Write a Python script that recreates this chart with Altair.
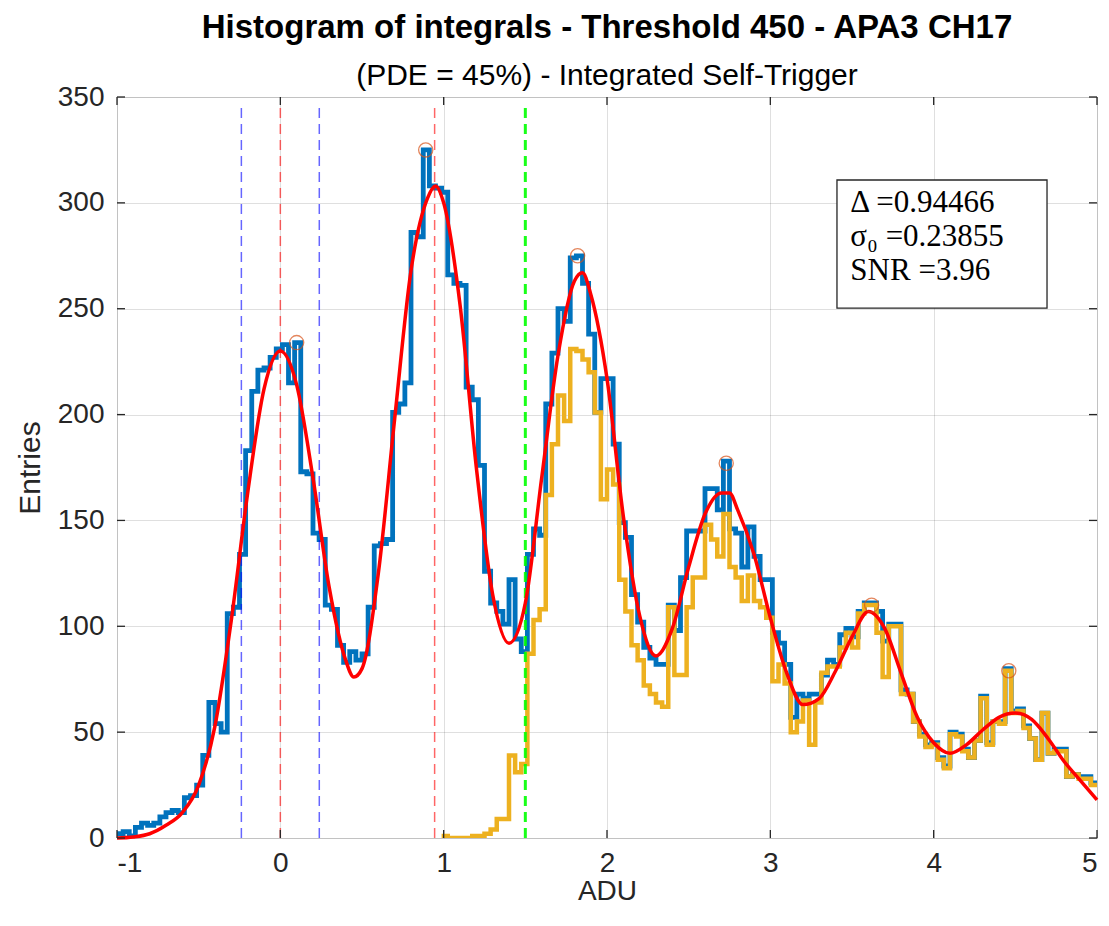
import altair as alt
import pandas as pd

# ---------------- data ----------------
BIN_START = -1.0
BIN_WIDTH = 0.0375

# blue histogram (all events), 160 bins from -1 to 5 ADU
blue_counts = [
    2, 3, 1, 5, 7, 6, 7, 10, 12, 13,
    12, 19, 20, 25, 39, 64, 54, 50, 106, 109,
    134, 183, 211, 221, 222, 227, 231, 233, 215, 234,
    173, 172, 144, 141, 110, 108, 91, 83, 88, 84,
    87, 109, 138, 139, 141, 201, 205, 215, 286, 284,
    325, 308, 307, 305, 266, 262, 261, 213, 207, 176,
    126, 111, 107, 101, 122, 94, 88, 134, 146, 143,
    205, 229, 250, 244, 274, 275, 262, 238, 201, 217,
    217, 186, 149, 142, 115, 102, 90, 85, 82, 82,
    110, 98, 123, 145, 145, 145, 165, 165, 155, 178,
    146, 144, 128, 147, 133, 122, 122, 97, 92, 82,
    57, 68, 66, 68, 68, 77, 84, 82, 96, 99,
    95, 107, 111, 111, 107, 93, 101, 101, 70, 68,
    55, 49, 44, 45, 38, 34, 50, 49, 42, 38,
    46, 67, 45, 55, 55, 80, 60, 61, 53, 47,
    37, 59, 40, 42, 42, 29, 30, 29, 29, 26,
]

# yellow histogram (self-trigger), starts at bin 53
YELLOW_FIRST_BIN = 53
yellow_counts = [
    1, 0, 0, 0, 0, 1, 1, 2, 4, 9,
    9, 39, 31, 35, 87, 103, 108, 162, 186, 209,
    197, 231, 230, 226, 220, 201, 160, 174, 167, 122,
    107, 91, 84, 72, 68, 64, 62, 109, 77, 77,
    109, 123, 123, 148, 141, 133, 153, 128, 123, 112,
    124, 112, 109, 104, 74, 82, 73, 50, 55, 65,
    44, 64, 78, 81, 81, 90, 97, 90, 106, 110,
    110, 97, 76, 100, 100, 68, 68, 55, 48, 43,
    44, 37, 33, 49, 48, 41, 38, 46, 66, 44,
    55, 54, 79, 59, 60, 52, 47, 37, 59, 40,
    41, 41, 29, 30, 28, 28, 25,
]

# red multi-gaussian fit
fit_adu = [-1.0, -0.9, -0.8, -0.7, -0.6, -0.5, -0.4, -0.3, -0.2, -0.1,
           0.0, 0.1, 0.2, 0.3, 0.4, 0.45, 0.5, 0.6, 0.7, 0.8,
           0.9, 0.95, 1.0, 1.1, 1.2, 1.3, 1.4, 1.5, 1.6, 1.7,
           1.8, 1.85, 1.9, 2.0, 2.1, 2.2, 2.3, 2.4, 2.5, 2.6,
           2.7, 2.75, 2.8, 2.9, 3.0, 3.1, 3.2, 3.3, 3.4, 3.5,
           3.6, 3.7, 3.8, 3.9, 4.0, 4.1, 4.2, 4.3, 4.4, 4.5,
           4.6, 4.7, 4.8, 4.9, 5.0]
fit_entries = [0, 0.5, 2, 6, 12, 25, 53, 103, 163, 212,
               230, 214, 170, 118, 84, 76, 80, 125, 198, 268,
               302, 308, 300, 252, 175, 115, 92, 111, 170, 228,
               263, 267, 257, 217, 152, 105, 86, 99, 128, 153,
               163, 163, 155, 134, 104, 78, 63, 66, 79, 95,
               107, 99, 78, 57, 45, 40, 44, 51, 57, 59,
               56, 47, 36, 27, 18]

peak_adu = [0.10, 0.89, 1.82, 2.73, 3.62, 4.46]
peak_entries = [234, 325, 275, 177, 110, 79]

blue_dash_adu = [-0.23855, 0.23855]
red_dash_adu = [0.0, 0.94466]
green_dash_adu = [1.5]

x_ticks = [-1, 0, 1, 2, 3, 4, 5]
y_ticks = [0, 50, 100, 150, 200, 250, 300, 350]

stats_lines = ["Δ =0.94466", "σ₀ =0.23855", "SNR =3.96"]

# ---------------- build tables ----------------
def stairs(counts, first_bin):
    xs, ys = [], []
    for k, c in enumerate(counts):
        xs.append(BIN_START + (first_bin + k) * BIN_WIDTH)
        ys.append(c)
    xs.append(BIN_START + (first_bin + len(counts)) * BIN_WIDTH)
    ys.append(counts[-1])
    return pd.DataFrame({"adu": xs, "entries": ys})

blue_df = stairs(blue_counts, 0)
yellow_df = stairs(yellow_counts, YELLOW_FIRST_BIN)
fit_df = pd.DataFrame({"adu": fit_adu, "entries": fit_entries})
peak_df = pd.DataFrame({"adu": peak_adu, "entries": peak_entries})

def vlines(xs):
    return pd.DataFrame({"adu": xs, "y0": [0] * len(xs), "y1": [347] * len(xs)})

W, H = 980, 741
FONT = "Liberation Sans"
AX = "#262626"

xscale = alt.Scale(domain=[-1, 5], nice=False, zero=False)
yscale = alt.Scale(domain=[0, 350], nice=False)

xaxis = alt.Axis(values=x_ticks, grid=True, ticks=False, domain=False,
                 labelFont=FONT, labelFontSize=28, labelColor=AX, labelPadding=11,
                 labelExpr="replace(datum.label, '−', '-')",
                 title="ADU", titleFont=FONT, titleFontSize=28, titleFontWeight="normal",
                 titleColor=AX, titleX=W / 2, titleY=53, titleBaseline="middle",
                 gridColor=AX, gridOpacity=0.15, gridWidth=1)
yaxis = alt.Axis(values=y_ticks, grid=True, ticks=False, domain=False,
                 labelFont=FONT, labelFontSize=28, labelColor=AX, labelPadding=13,
                 title="Entries", titleFont=FONT, titleFontSize=30, titleFontWeight="normal",
                 titleColor=AX, titleX=-87, titleY=H / 2, titleAngle=270,
                 titleAlign="center", titleBaseline="middle",
                 gridColor=AX, gridOpacity=0.15, gridWidth=1)

def X(f="adu"):
    return alt.X(f, type="quantitative", scale=xscale, axis=xaxis)

def Y(f="entries"):
    return alt.Y(f, type="quantitative", scale=yscale, axis=yaxis)

blue = alt.Chart(blue_df).mark_line(interpolate="step-after", color="#0072BD",
                                     strokeWidth=4.8, clip=True).encode(x=X(), y=Y())
yellow = alt.Chart(yellow_df).mark_line(interpolate="step-after", color="#EDB120",
                                         strokeWidth=4.5, clip=True).encode(x=X(), y=Y())

def dashed(xs, color, width, opacity):
    return alt.Chart(vlines(xs)).mark_rule(color=color, strokeWidth=width,
                                           strokeDash=[10, 6], opacity=opacity).encode(
        x=X(), y=Y("y0"), y2="y1")

blue_dash = dashed(blue_dash_adu, "#0000FF", 1.5, 0.6)
red_dash = dashed(red_dash_adu, "#FF0000", 1.5, 0.6)
green_dash = dashed(green_dash_adu, "#00FF00", 3, 0.9)

fit = alt.Chart(fit_df).mark_line(interpolate="monotone", color="#FF0000",
                                   strokeWidth=3.5).encode(x=X(), y=Y())
peaks = alt.Chart(peak_df).mark_point(shape="circle", filled=False, size=200,
                                       color="#D95319", strokeWidth=1.3).encode(x=X(), y=Y())

box_df = pd.DataFrame({"x0": [3.408], "x1": [4.694], "y0": [250.3], "y1": [310.8]})
box = alt.Chart(box_df).mark_rect(fill="white", stroke=AX, strokeWidth=1.3).encode(
    x=X("x0"), x2="x1", y=Y("y0"), y2="y1")
txt_df = pd.DataFrame({"adu": [3.49] * 3, "entries": [300.0, 284.0, 268.0], "t": stats_lines})
txt = alt.Chart(txt_df).mark_text(align="left", baseline="middle", font="Liberation Serif",
                                  fontSize=31, color="#000000").encode(
    x=X(), y=Y(), text="t:N")

# inward ticks on all four sides
xt_df = pd.DataFrame({"adu": x_ticks})
yt_df = pd.DataFrame({"entries": y_ticks})
tick_style = dict(color=AX, strokeWidth=1.3)
xt_bottom = alt.Chart(xt_df).mark_rule(**tick_style).encode(x=X(), y=alt.value(H), y2=alt.value(H - 8))
xt_top = alt.Chart(xt_df).mark_rule(**tick_style).encode(x=X(), y=alt.value(0), y2=alt.value(8))
yt_left = alt.Chart(yt_df).mark_rule(**tick_style).encode(y=Y(), x=alt.value(0), x2=alt.value(8))
yt_right = alt.Chart(yt_df).mark_rule(**tick_style).encode(y=Y(), x=alt.value(W), x2=alt.value(W - 8))

chart = alt.layer(
    blue, yellow, blue_dash, red_dash, green_dash, fit, peaks, box, txt,
    xt_bottom, xt_top, yt_left, yt_right,
).properties(
    width=W, height=H,
    autosize=alt.AutoSizeParams(type="none"),
    padding={"left": 117, "top": 97, "right": 12, "bottom": 88},
    title=alt.TitleParams(
        text="Histogram of integrals - Threshold 450 - APA3 CH17",
        subtitle="(PDE = 45%) - Integrated Self-Trigger",
        font=FONT, fontSize=33, fontWeight="bold", color="#000000",
        subtitleFont=FONT, subtitleFontSize=30, subtitleColor="#000000",
        subtitlePadding=16, anchor="middle", frame="group", offset=-8,
    ),
).configure_view(stroke=AX, strokeWidth=1.3).configure(background="white")

chart.save("out.html", embed_options={"renderer": "svg", "actions": False})
